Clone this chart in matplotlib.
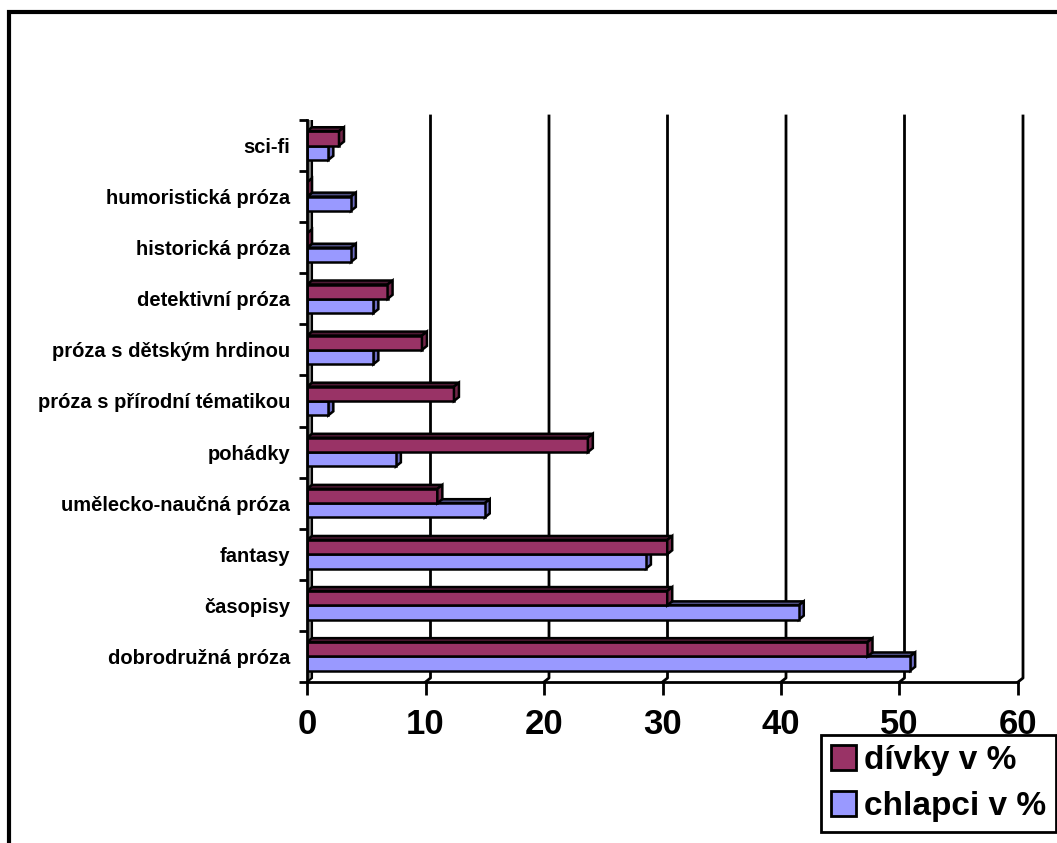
import matplotlib
matplotlib.use("Agg")
import matplotlib.pyplot as plt
from matplotlib.patches import Polygon, Rectangle
import numpy as np

plt.rcParams['font.family'] = ['Liberation Sans', 'DejaVu Sans']

# kategorie odshora dolu
kategorie = ["sci-fi", "humoristická próza", "historická próza", "detektivní próza",
             "próza s dětským hrdinou", "próza s přírodní tématikou", "pohádky",
             "umělecko-naučná próza", "fantasy", "časopisy", "dobrodružná próza"]
divky = [2.7, 0.0, 0.0, 6.8, 9.7, 12.4, 23.7, 11.0, 30.4, 30.4, 47.3]
chlapci = [1.8, 3.7, 3.7, 5.6, 5.6, 1.8, 7.5, 15.0, 28.6, 41.5, 50.9]
osa_x = [0, 10, 20, 30, 40, 50, 60]

barvy = {"divky": ("#993366", "#4d1933", "#732649"),
         "chlapci": ("#9999ff", "#4d4d80", "#6b6bc0")}

W, H = 1057, 843
fig = plt.figure(figsize=(W / 100, H / 100), dpi=100)
fig.patch.set_facecolor("white")

x0_px, x1_px = 307, 1018
y0_px, y1_px = 682, 120
ax = fig.add_axes([x0_px / W, 1 - y0_px / H, (x1_px - x0_px) / W, (y0_px - y1_px) / H])
ax.set_xlim(0, 60)
ax.set_ylim(-0.5, len(kategorie) - 0.5)
ax.patch.set_visible(False)

# hloubka 3D efektu v datovych jednotkach
dx = 5 * 60 / (x1_px - x0_px)
dy = 4 * len(kategorie) / (y0_px - y1_px)
ylo, yhi = -0.5, len(kategorie) - 0.5

# leva bocni stena
ax.add_patch(Polygon([(0, ylo), (0, yhi), (dx, yhi + dy), (dx, ylo + dy)],
                     closed=True, facecolor="#808080", edgecolor="black", lw=1.5, zorder=1))

# mrizka na zadni stene
for v in osa_x[1:]:
    ax.plot([v + dx, v + dx, v], [yhi + dy, ylo + dy, ylo], color="black", lw=2,
            zorder=0.5, clip_on=False)
ax.plot([0, 60], [ylo, ylo], color="black", lw=2, zorder=0.6, clip_on=False)
ax.plot([0, 0], [ylo, yhi], color="black", lw=2, zorder=5, clip_on=False)

pozice = np.arange(len(kategorie))[::-1]
h = 0.28


def sloupec(y, w, barva, z):
    cel, vrch, bok = barva
    ax.add_patch(Polygon([(0, y + h), (w, y + h), (w + dx, y + h + dy), (dx, y + h + dy)],
                         closed=True, facecolor=vrch, edgecolor="black", lw=1.8, zorder=z))
    ax.add_patch(Polygon([(w, y), (w, y + h), (w + dx, y + h + dy), (w + dx, y + dy)],
                         closed=True, facecolor=bok, edgecolor="black", lw=1.8, zorder=z))


for y, d, c in zip(pozice, divky, chlapci):
    sloupec(y - h, c, barvy["chlapci"], 2)
    ax.barh(y - h, c, height=h, align="edge", color=barvy["chlapci"][0],
            edgecolor="black", lw=1.8, zorder=3)
    ax.barh(y, d, height=h, align="edge", color=barvy["divky"][0],
            edgecolor="black", lw=1.8, zorder=4)
    sloupec(y, d, barvy["divky"], 4)

for s in ax.spines.values():
    s.set_visible(False)

ax.set_xticks(osa_x)
ax.set_xticklabels([str(v) for v in osa_x], fontsize=25, fontweight="bold")
ax.tick_params(axis="x", length=9, width=2, pad=10)

ax.set_yticks(np.arange(-0.5, len(kategorie)))
ax.set_yticklabels([])
ax.tick_params(axis="y", which="major", length=6, width=2)
ax.set_yticks(pozice, minor=True)
ax.set_yticklabels(kategorie, minor=True, fontsize=14.5, fontweight="bold")
ax.tick_params(axis="y", which="minor", length=0, pad=12)

handles = [Rectangle((0, 0), 1, 1, facecolor=barvy["divky"][0], edgecolor="black", lw=2),
           Rectangle((0, 0), 1, 1, facecolor=barvy["chlapci"][0], edgecolor="black", lw=2)]
leg = fig.legend(handles, ["dívky v %", "chlapci v %"], loc="upper left",
                 bbox_to_anchor=(821 / W, 1 - 735 / H), prop={"size": 24, "weight": "bold"},
                 fancybox=False, shadow=False, framealpha=1, edgecolor="black",
                 handlelength=0.75, handleheight=0.75, handletextpad=0.25,
                 borderpad=0.3, labelspacing=0.45, borderaxespad=0)
leg.get_frame().set_linewidth(2)

# vnejsi ramecek grafu
fig.add_artist(Rectangle((9 / W, -0.1), 1.2, 1.1 - 12 / H, transform=fig.transFigure,
                         fill=False, edgecolor="black", lw=3))

fig.savefig("out.png", dpi=100)
